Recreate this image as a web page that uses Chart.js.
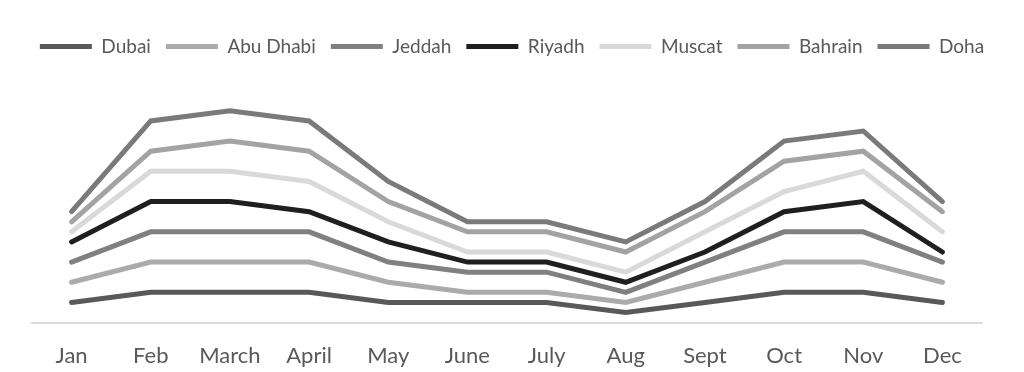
<!DOCTYPE html>
<html>
<head>
<meta charset="utf-8">
<script src="https://cdn.jsdelivr.net/npm/chart.js@4"></script>
<style>
  html, body { margin: 0; padding: 0; background: #fff; }
  #wrap { width: 1024px; height: 372px; }
</style>
</head>
<body>
<div id="wrap"><canvas id="cities-chart"></canvas></div>
<script>
// months along the x axis
var months = ["Jan", "Feb", "March", "April", "May", "June", "July", "Aug", "Sept", "Oct", "Nov", "Dec"];

// values per city (lines are stacked on top of each other)
var dubai    = [2, 3, 3, 3, 2, 2, 2, 1, 2, 3, 3, 2];
var abuDhabi = [2, 3, 3, 3, 2, 1, 1, 1, 2, 3, 3, 2];
var jeddah   = [2, 3, 3, 3, 2, 2, 2, 1, 2, 3, 3, 2];
var riyadh   = [2, 3, 3, 2, 2, 1, 1, 1, 1, 2, 3, 1];
var muscat   = [1, 3, 3, 3, 2, 1, 1, 1, 2, 2, 3, 2];
var bahrain  = [1, 2, 3, 3, 2, 2, 2, 2, 2, 3, 2, 2];
var doha     = [1, 3, 3, 3, 2, 1, 1, 1, 1, 2, 2, 1];

var cityNames = ["Dubai", "Abu Dhabi", "Jeddah", "Riyadh", "Muscat", "Bahrain", "Doha"];
var cityValues = [dubai, abuDhabi, jeddah, riyadh, muscat, bahrain, doha];
var cityColors = ["#595959", "#ababab", "#808080", "#1f1f1f", "#d9d9d9", "#a3a3a3", "#7a7a7a"];

var datasets = [];
for (var i = 0; i < cityNames.length; i++) {
  datasets.push({
    label: cityNames[i],
    data: cityValues[i],
    borderColor: cityColors[i],
    backgroundColor: cityColors[i],
    borderWidth: 5,
    borderCapStyle: "round",
    borderJoinStyle: "miter",
    pointRadius: 0,
    pointStyle: "line",
    fill: false,
    tension: 0
  });
}

// small gap under the legend
var legendGap = {
  id: "legendGap",
  beforeInit: function(chart) {
    var origFit = chart.legend.fit;
    chart.legend.fit = function() {
      origFit.bind(chart.legend)();
      this.height += 4.5;
    };
  }
};

var canvasElement = document.getElementById("cities-chart");
var config = {
  type: "line",
  data: {
    labels: months,
    datasets: datasets
  },
  options: {
    responsive: true,
    maintainAspectRatio: false,
    animation: false,
    layout: {
      padding: { left: 0, right: 0, top: 22, bottom: -17 }
    },
    plugins: {
      legend: {
        position: "top",
        labels: {
          usePointStyle: true,
          pointStyleWidth: 52,
          boxHeight: 5,
          padding: 15,
          color: "#595959",
          font: { family: "Lato", size: 19 }
        }
      },
      tooltip: { enabled: false }
    },
    scales: {
      x: {
        offset: true,
        grid: { display: false, drawTicks: false },
        border: { color: "#d9d9d9", width: 2 },
        ticks: {
          color: "#595959",
          padding: 20,
          font: { family: "Lato", size: 22 }
        }
      },
      y: {
        position: "left",
        stacked: true,
        min: 0,
        max: 25,
        grid: { display: false, drawTicks: false },
        border: { display: false },
        ticks: { display: false },
        afterFit: function(scale) { scale.width = 32; }
      },
      yRight: {
        type: "linear",
        position: "right",
        grid: { display: false, drawTicks: false },
        border: { display: false },
        ticks: { display: false },
        afterFit: function(scale) { scale.width = 42; }
      }
    }
  },
  plugins: [legendGap]
};

var citiesChart = new Chart(canvasElement, config);
</script>
</body>
</html>
